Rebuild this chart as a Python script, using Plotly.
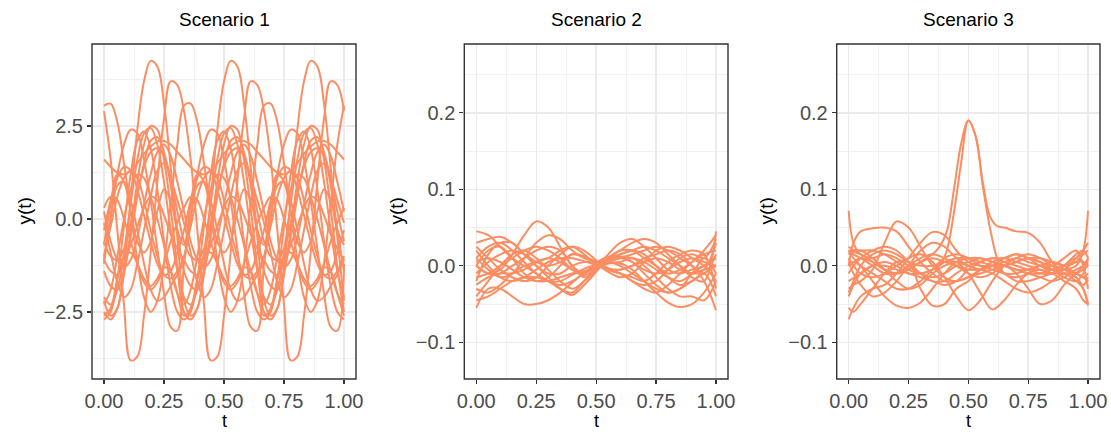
import plotly.graph_objects as go

# ---------------- data ----------------
# Scenario 1: time grid (step 1/36)
t1 = [0, 0.0278, 0.0556, 0.0833, 0.1111, 0.1389, 0.1667, 0.1944, 0.2222, 0.25, 0.2778, 0.3056,
      0.3333, 0.3611, 0.3889, 0.4167, 0.4444, 0.4722, 0.5, 0.5278, 0.5556, 0.5833, 0.6111, 0.6389,
      0.6667, 0.6944, 0.7222, 0.75, 0.7778, 0.8056, 0.8333, 0.8611, 0.8889, 0.9167, 0.9444, 0.9722, 1.0]

s1_a = [-2.2, -2.6, -2.4, -1.3, 0.5, 2.4, 3.7, 4.25, 4.1, 3.1, 1.4, -0.5,
        -2.2, -2.6, -2.4, -1.3, 0.5, 2.4, 3.7, 4.25, 4.1, 3.1, 1.4, -0.5,
        -2.2, -2.6, -2.4, -1.3, 0.5, 2.4, 3.7, 4.25, 4.1, 3.1, 1.4, -0.5, -2.2]
s1_b = [2.9, 1.6, -0.3, -2.3, -3.8, -3.7, -2.6, -0.9, 1.0, 2.7, 3.7, 3.6,
        2.9, 1.6, -0.3, -2.3, -3.8, -3.7, -2.6, -0.9, 1.0, 2.7, 3.7, 3.6,
        2.9, 1.6, -0.3, -2.3, -3.8, -3.7, -2.6, -0.9, 1.0, 2.7, 3.7, 3.6, 2.9]
s1_c = [3.05, 3.1, 2.6, 1.5, 0.2, -1.1, -2.1, -2.5, -2.2, -1.2, 0.4, 2.0,
        3.05, 3.1, 2.6, 1.5, 0.2, -1.1, -2.1, -2.5, -2.2, -1.2, 0.4, 2.0,
        3.05, 3.1, 2.6, 1.5, 0.2, -1.1, -2.1, -2.5, -2.2, -1.2, 0.4, 2.0, 3.05]
s1_d = [-1.2, 0.1, 1.2, 2.0, 2.4, 2.3, 1.6, 0.5, -0.8, -2.0, -2.9, -3.0,
        -1.2, 0.1, 1.2, 2.0, 2.4, 2.3, 1.6, 0.5, -0.8, -2.0, -2.9, -3.0,
        -1.2, 0.1, 1.2, 2.0, 2.4, 2.3, 1.6, 0.5, -0.8, -2.0, -2.9, -3.0, -1.2]
s1_e = [1.6, 1.4, 1.25, 1.2, 1.3, 1.5, 1.75, 1.95, 2.08, 2.1, 2.0, 1.8,
        1.6, 1.4, 1.25, 1.2, 1.3, 1.5, 1.75, 1.95, 2.08, 2.1, 2.0, 1.8,
        1.6, 1.4, 1.25, 1.2, 1.3, 1.5, 1.75, 1.95, 2.08, 2.1, 2.0, 1.8, 1.6]
s1_f = [-2.5, -2.7, -2.4, -1.5, -0.3, 1.0, 2.0, 2.5, 2.4, 1.6, 0.3, -1.3,
        -2.5, -2.7, -2.4, -1.5, -0.3, 1.0, 2.0, 2.5, 2.4, 1.6, 0.3, -1.3,
        -2.5, -2.7, -2.4, -1.5, -0.3, 1.0, 2.0, 2.5, 2.4, 1.6, 0.3, -1.3, -2.5]
s1_g = [-2.1, -2.3, -1.9, -0.9, 0.4, 1.6, 2.3, 2.45, 2.0, 1.0, -0.3, -1.4,
        -2.1, -2.3, -1.9, -0.9, 0.4, 1.6, 2.3, 2.45, 2.0, 1.0, -0.3, -1.4,
        -2.1, -2.3, -1.9, -0.9, 0.4, 1.6, 2.3, 2.45, 2.0, 1.0, -0.3, -1.4, -2.1]
s1_h = [-1.4, -1.8, -1.9, -1.4, -0.5, 0.6, 1.5, 2.1, 2.2, 1.8, 0.9, -0.3,
        -1.4, -1.8, -1.9, -1.4, -0.5, 0.6, 1.5, 2.1, 2.2, 1.8, 0.9, -0.3,
        -1.4, -1.8, -1.9, -1.4, -0.5, 0.6, 1.5, 2.1, 2.2, 1.8, 0.9, -0.3, -1.4]
s1_i = [-0.6, -1.0, -1.1, -0.8, -0.1, 0.7, 1.4, 1.8, 1.9, 1.7, 1.1, 0.2,
        -0.6, -1.0, -1.1, -0.8, -0.1, 0.7, 1.4, 1.8, 1.9, 1.7, 1.1, 0.2,
        -0.6, -1.0, -1.1, -0.8, -0.1, 0.7, 1.4, 1.8, 1.9, 1.7, 1.1, 0.2, -0.6]
s1_j = [-0.3, 0.5, 1.1, 1.4, 1.3, 0.8, 0.1, -0.6, -1.2, -1.5, -1.4, -0.9,
        -0.3, 0.5, 1.1, 1.4, 1.3, 0.8, 0.1, -0.6, -1.2, -1.5, -1.4, -0.9,
        -0.3, 0.5, 1.1, 1.4, 1.3, 0.8, 0.1, -0.6, -1.2, -1.5, -1.4, -0.9, -0.3]
s1_k = [-1.0, -0.2, 0.6, 1.1, 1.3, 1.1, 0.5, -0.3, -1.0, -1.5, -1.6, -1.4,
        -1.0, -0.2, 0.6, 1.1, 1.3, 1.1, 0.5, -0.3, -1.0, -1.5, -1.6, -1.4,
        -1.0, -0.2, 0.6, 1.1, 1.3, 1.1, 0.5, -0.3, -1.0, -1.5, -1.6, -1.4, -1.0]
s1_l = [-2.6, -2.4, -1.6, -1.0, -0.9, -1.2, -1.6, -1.8, -1.6, -1.3, -1.4, -2.0,
        -2.6, -2.4, -1.6, -1.0, -0.9, -1.2, -1.6, -1.8, -1.6, -1.3, -1.4, -2.0,
        -2.6, -2.4, -1.6, -1.0, -0.9, -1.2, -1.6, -1.8, -1.6, -1.3, -1.4, -2.0, -2.6]
s1_m = [0.3, 0.6, 0.5, 0.0, -0.6, -1.2, -1.7, -1.9, -1.7, -1.2, -0.6, -0.1,
        0.3, 0.6, 0.5, 0.0, -0.6, -1.2, -1.7, -1.9, -1.7, -1.2, -0.6, -0.1,
        0.3, 0.6, 0.5, 0.0, -0.6, -1.2, -1.7, -1.9, -1.7, -1.2, -0.6, -0.1, 0.3]
s1_n = [-0.7, 0.4, 1.2, 1.0, 0.2, -0.6, -0.9, -0.6, 0.2, 0.8, 0.5, -0.3,
        -0.7, 0.4, 1.2, 1.0, 0.2, -0.6, -0.9, -0.6, 0.2, 0.8, 0.5, -0.3,
        -0.7, 0.4, 1.2, 1.0, 0.2, -0.6, -0.9, -0.6, 0.2, 0.8, 0.5, -0.3, -0.7]
s1_o = [-2.3, -1.9, -1.0, 0.0, 0.8, 1.2, 1.1, 0.6, 0.0, -0.7, -1.4, -2.0,
        -2.3, -1.9, -1.0, 0.0, 0.8, 1.2, 1.1, 0.6, 0.0, -0.7, -1.4, -2.0,
        -2.3, -1.9, -1.0, 0.0, 0.8, 1.2, 1.1, 0.6, 0.0, -0.7, -1.4, -2.0, -2.3]
s1_p = [0.2, -0.6, -1.1, -1.3, -1.1, -0.5, 0.4, 1.2, 1.8, 2.0, 1.7, 1.0,
        0.2, -0.6, -1.1, -1.3, -1.1, -0.5, 0.4, 1.2, 1.8, 2.0, 1.7, 1.0,
        0.2, -0.6, -1.1, -1.3, -1.1, -0.5, 0.4, 1.2, 1.8, 2.0, 1.7, 1.0, 0.2]
s1_q = [-1.1, 0.0, 0.9, 1.0, 0.5, -0.3, -1.2, -1.9, -2.2, -2.1, -1.8, -1.5,
        -1.1, 0.0, 0.9, 1.0, 0.5, -0.3, -1.2, -1.9, -2.2, -2.1, -1.8, -1.5,
        -1.1, 0.0, 0.9, 1.0, 0.5, -0.3, -1.2, -1.9, -2.2, -2.1, -1.8, -1.5, -1.1]
s1_r = [-2.7, -2.5, -1.6, -0.2, 1.2, 2.1, 2.35, 1.9, 0.8, -0.6, -1.8, -2.5,
        -2.7, -2.5, -1.6, -0.2, 1.2, 2.1, 2.35, 1.9, 0.8, -0.6, -1.8, -2.5,
        -2.7, -2.5, -1.6, -0.2, 1.2, 2.1, 2.35, 1.9, 0.8, -0.6, -1.8, -2.5, -2.7]
s1_s = [-1.1, -1.4, -1.5, -1.2, -0.7, -0.2, 0.3, 0.6, 0.5, 0.1, -0.4, -0.8,
        -1.1, -1.4, -1.5, -1.2, -0.7, -0.2, 0.3, 0.6, 0.5, 0.1, -0.4, -0.8,
        -1.1, -1.4, -1.5, -1.2, -0.7, -0.2, 0.3, 0.6, 0.5, 0.1, -0.4, -0.8, -1.1]
s1_t = [-0.1, -0.9, -1.7, -2.1, -1.9, -1.2, -0.3, 0.6, 1.3, 1.5, 1.1, 0.5,
        -0.1, -0.9, -1.7, -2.1, -1.9, -1.2, -0.3, 0.6, 1.3, 1.5, 1.1, 0.5,
        -0.1, -0.9, -1.7, -2.1, -1.9, -1.2, -0.3, 0.6, 1.3, 1.5, 1.1, 0.5, -0.1]

# Scenario 2: time grid (step 0.05)
t2 = [0, 0.05, 0.1, 0.15, 0.2, 0.25, 0.3, 0.35, 0.4, 0.45, 0.5,
      0.55, 0.6, 0.65, 0.7, 0.75, 0.8, 0.85, 0.9, 0.95, 1.0]

s2_01 = [0.0, -0.01, -0.005, 0.015, 0.04, 0.058, 0.05, 0.025, 0.0, -0.01, 0.004, 0.012, 0.012, 0.005, -0.005, -0.01, -0.005, 0.005, 0.01, 0.005, 0.0]
s2_02 = [-0.055, -0.03, -0.03, -0.04, -0.05, -0.05, -0.045, -0.035, -0.022, -0.01, -0.004, 0.003, 0.003, -0.005, -0.02, -0.035, -0.048, -0.054, -0.05, -0.035, -0.01]
s2_03 = [0.045, 0.04, 0.025, 0.01, 0.0, -0.01, -0.02, -0.03, -0.035, -0.02, -0.006, 0.01, 0.015, 0.02, 0.025, 0.02, 0.01, 0.0, -0.01, -0.005, 0.03]
s2_04 = [0.03, 0.035, 0.038, 0.03, 0.015, 0.0, -0.015, -0.03, -0.038, -0.025, -0.008, 0.01, 0.02, 0.03, 0.035, 0.03, 0.015, 0.0, -0.015, -0.02, 0.045]
s2_05 = [-0.02, 0.015, 0.03, 0.03, 0.015, 0.0, -0.01, -0.01, 0.0, 0.005, 0.005, -0.005, -0.01, -0.02, -0.03, -0.035, -0.025, -0.01, 0.005, 0.015, 0.02]
s2_06 = [0.01, -0.005, -0.015, -0.01, 0.01, 0.03, 0.04, 0.035, 0.02, 0.01, 0.006, 0.004, 0.005, 0.01, 0.005, -0.005, -0.015, -0.02, -0.01, 0.01, -0.01]
s2_07 = [-0.04, -0.02, 0.0, 0.015, 0.02, 0.01, -0.005, -0.02, -0.03, -0.02, -0.003, 0.015, 0.03, 0.035, 0.025, 0.01, -0.005, -0.01, -0.005, 0.0, 0.01]
s2_08 = [0.0, 0.02, 0.025, 0.01, -0.01, -0.02, -0.015, 0.0, 0.015, 0.012, 0.003, -0.008, -0.015, -0.01, 0.005, 0.02, 0.025, 0.02, 0.01, 0.0, -0.02]
s2_09 = [0.02, 0.0, -0.015, -0.02, -0.015, -0.005, 0.005, 0.01, 0.01, 0.006, 0.001, -0.005, -0.005, 0.0, 0.01, 0.015, 0.02, 0.015, 0.0, -0.02, -0.058]
s2_10 = [-0.03, -0.035, -0.025, -0.01, 0.0, 0.005, 0.01, 0.02, 0.025, 0.015, 0.002, -0.005, -0.01, -0.02, -0.025, -0.02, -0.005, 0.01, 0.015, 0.01, 0.035]
s2_11 = [0.005, 0.01, 0.005, -0.005, -0.015, -0.02, -0.02, -0.015, -0.01, -0.007, -0.002, 0.005, 0.01, 0.005, -0.01, -0.025, -0.035, -0.03, -0.01, 0.0, 0.01]
s2_12 = [-0.01, 0.005, 0.015, 0.02, 0.015, 0.005, 0.0, 0.005, 0.015, 0.012, 0.005, -0.003, -0.005, 0.0, 0.005, 0.01, 0.005, -0.005, -0.01, -0.005, 0.0]
s2_13 = [0.025, 0.01, -0.005, -0.015, -0.02, -0.015, 0.0, 0.015, 0.025, 0.02, 0.007, -0.005, -0.01, -0.015, -0.02, -0.01, 0.005, 0.015, 0.02, 0.015, -0.03]
s2_14 = [-0.015, -0.01, 0.0, 0.01, 0.02, 0.025, 0.02, 0.01, -0.005, -0.012, -0.005, 0.005, 0.01, 0.015, 0.02, 0.025, 0.02, 0.01, 0.0, -0.01, 0.015]
s2_15 = [0.01, 0.025, 0.03, 0.02, 0.005, -0.01, -0.02, -0.025, -0.02, -0.01, -0.001, 0.008, 0.012, 0.01, 0.0, -0.015, -0.03, -0.04, -0.04, -0.045, -0.02]
s2_16 = [-0.045, -0.04, -0.03, -0.02, -0.015, -0.015, -0.02, -0.02, -0.012, -0.004, 0.001, 0.005, 0.0, -0.01, -0.02, -0.03, -0.035, -0.03, -0.02, -0.01, 0.0]
s2_17 = [0.0, -0.01, -0.01, 0.0, 0.01, 0.02, 0.025, 0.02, 0.0, -0.015, -0.006, 0.01, 0.02, 0.02, 0.01, 0.0, -0.01, -0.005, 0.005, 0.02, 0.04]
s2_18 = [-0.025, -0.015, -0.01, -0.01, -0.005, 0.005, 0.01, 0.005, -0.005, -0.008, 0.003, 0.008, 0.015, 0.02, 0.015, 0.0, -0.015, -0.025, -0.02, -0.01, -0.04]

# Scenario 3: time grid (finer near the ends)
t3 = [0, 0.02, 0.05, 0.1, 0.15, 0.2, 0.25, 0.3, 0.35, 0.4, 0.45, 0.5,
      0.55, 0.6, 0.65, 0.7, 0.75, 0.8, 0.85, 0.9, 0.95, 0.98, 1.0]

s3_01 = [0.072, 0.03, 0.015, 0.01, 0.015, 0.01, 0.0, -0.01, -0.015, -0.01, 0.0, 0.005, 0.01, 0.005, 0.0, -0.005, -0.005, 0.0, 0.005, 0.0, -0.01, -0.015, -0.01]
s3_02 = [0.0, 0.005, 0.01, 0.005, -0.005, -0.01, -0.005, 0.005, 0.01, 0.005, 0.0, -0.005, -0.005, 0.0, 0.005, 0.01, 0.005, 0.0, -0.005, -0.005, 0.0, 0.02, 0.072]
s3_03 = [0.0, 0.03, 0.045, 0.049, 0.05, 0.045, 0.025, 0.005, -0.01, -0.02, -0.02, -0.015, -0.01, -0.005, 0.0, 0.005, 0.01, 0.005, -0.005, -0.015, -0.02, -0.01, 0.01]
s3_04 = [-0.03, -0.025, -0.02, -0.005, 0.03, 0.058, 0.05, 0.025, 0.0, -0.015, -0.02, -0.015, -0.005, 0.0, 0.0, -0.005, -0.01, -0.015, -0.02, -0.015, -0.005, 0.0, 0.005]
s3_05 = [0.02, 0.01, 0.0, -0.02, -0.04, -0.052, -0.055, -0.048, -0.03, -0.01, 0.005, 0.01, 0.01, 0.005, 0.0, -0.005, -0.01, -0.01, -0.005, 0.0, 0.005, 0.005, 0.0]
s3_06 = [-0.055, -0.06, -0.05, -0.03, -0.01, 0.005, 0.005, -0.03, -0.052, -0.05, -0.03, -0.02, -0.005, 0.005, 0.01, 0.005, 0.0, -0.005, -0.01, -0.01, -0.02, -0.03, -0.05]
s3_07 = [0.01, 0.0, -0.01, -0.015, -0.01, 0.0, 0.01, 0.015, 0.005, -0.015, -0.04, -0.058, -0.045, -0.02, 0.0, 0.01, 0.015, 0.01, 0.0, -0.01, -0.01, -0.005, 0.0]
s3_08 = [-0.035, -0.02, 0.0, 0.015, 0.02, 0.015, 0.005, 0.0, 0.0, 0.005, 0.005, -0.01, -0.035, -0.057, -0.045, -0.025, -0.01, -0.005, -0.01, -0.02, -0.03, -0.045, -0.05]
s3_09 = [0.02, 0.015, 0.01, 0.0, -0.01, -0.01, 0.0, 0.01, 0.015, 0.01, 0.0, -0.01, -0.015, -0.01, 0.0, -0.01, -0.03, -0.05, -0.045, -0.025, -0.01, 0.0, 0.01]
s3_10 = [-0.07, -0.055, -0.04, -0.03, -0.025, -0.01, 0.01, 0.03, 0.044, 0.04, 0.02, 0.005, 0.0, 0.0, 0.0, 0.005, 0.01, 0.01, 0.005, 0.0, 0.005, 0.015, 0.02]
s3_11 = [0.025, 0.02, 0.02, 0.02, 0.015, 0.005, -0.005, -0.01, -0.005, 0.005, 0.01, 0.01, 0.005, 0.0, -0.01, -0.02, -0.02, -0.015, -0.01, 0.0, 0.015, 0.02, 0.01]
s3_12 = [-0.01, 0.0, 0.01, 0.02, 0.025, 0.02, 0.005, -0.01, -0.02, -0.02, -0.01, 0.0, 0.005, 0.01, 0.01, 0.015, 0.01, 0.005, 0.0, 0.01, 0.02, 0.0, -0.03]
s3_13 = [0.005, -0.01, -0.025, -0.04, -0.035, -0.02, 0.0, 0.02, 0.03, 0.025, 0.01, 0.0, -0.005, -0.01, -0.02, -0.03, -0.035, -0.03, -0.02, -0.01, -0.015, -0.03, -0.052]
s3_14 = [0.015, 0.02, 0.02, 0.01, -0.005, -0.02, -0.03, -0.025, -0.01, 0.0, 0.005, 0.0, -0.005, 0.0, 0.01, 0.015, 0.01, 0.0, -0.005, -0.005, -0.01, -0.015, -0.02]
s3_15 = [-0.04, -0.025, -0.01, 0.0, 0.0, -0.005, -0.01, -0.015, -0.02, -0.025, -0.02, -0.005, 0.005, 0.01, 0.005, 0.0, -0.005, -0.01, -0.01, -0.005, 0.01, 0.02, 0.03]
s3_16 = [0.0, 0.005, 0.0, -0.01, -0.02, -0.03, -0.03, -0.02, -0.005, 0.01, 0.015, 0.01, 0.0, -0.005, -0.01, -0.01, -0.005, 0.0, 0.0, -0.005, -0.015, -0.025, -0.015]

# Scenario 3: the two peaked curves, on a finer grid around the peak
t3_peak = [0, 0.05, 0.1, 0.15, 0.2, 0.25, 0.3, 0.35, 0.38, 0.41, 0.44, 0.47, 0.5,
           0.53, 0.56, 0.59, 0.62, 0.65, 0.7, 0.75, 0.8, 0.85, 0.9, 0.95, 1.0]
s3_peak1 = [0.02, 0.015, 0.005, -0.005, -0.01, -0.005, 0.005, 0.015, 0.025, 0.045, 0.1, 0.16, 0.19,
            0.17, 0.11, 0.065, 0.052, 0.05, 0.045, 0.043, 0.03, 0.005, -0.01, -0.01, -0.02]
s3_peak2 = [-0.02, -0.01, 0.0, 0.005, 0.0, -0.01, -0.01, -0.005, 0.0, 0.02, 0.07, 0.135, 0.19,
            0.17, 0.105, 0.05, 0.01, -0.01, -0.015, -0.01, 0.0, -0.01, 0.0, 0.01, 0.0]

titles = ["Scenario 1", "Scenario 2", "Scenario 3"]
x_ticks = [0, 0.25, 0.5, 0.75, 1.0]
x_ticklabels = ["0.00", "0.25", "0.50", "0.75", "1.00"]
y1_ticks = [-2.5, 0, 2.5]
y1_ticklabels = ["\u22122.5", "0.0", "2.5"]
y2_ticks = [-0.1, 0, 0.1, 0.2]
y2_ticklabels = ["\u22120.1", "0.0", "0.1", "0.2"]

panel1 = [s1_a, s1_b, s1_c, s1_d, s1_e, s1_f, s1_g, s1_h, s1_i, s1_j,
          s1_k, s1_l, s1_m, s1_n, s1_o, s1_p, s1_q, s1_r, s1_s, s1_t]
panel2 = [s2_01, s2_02, s2_03, s2_04, s2_05, s2_06, s2_07, s2_08, s2_09,
          s2_10, s2_11, s2_12, s2_13, s2_14, s2_15, s2_16, s2_17, s2_18]
panel3 = [s3_01, s3_02, s3_03, s3_04, s3_05, s3_06, s3_07, s3_08,
          s3_09, s3_10, s3_11, s3_12, s3_13, s3_14, s3_15, s3_16]

# ---------------- figure ----------------
W, H = 1111, 435
COLOR = "#FC8D62"
FONT = "Liberation Sans, Arial, Helvetica, sans-serif"

fig = go.Figure()

def add_line(x, y, xa, ya):
    fig.add_trace(go.Scatter(x=x, y=y, mode="lines", xaxis=xa, yaxis=ya,
                             line=dict(color=COLOR, width=2.0, shape="spline", smoothing=1.0),
                             hoverinfo="skip", showlegend=False))

for y in panel1:
    add_line(t1, y, "x", "y")
for y in panel2:
    add_line(t2, y, "x2", "y2")
for y in panel3:
    add_line(t3, y, "x3", "y3")
add_line(t3_peak, s3_peak1, "x3", "y3")
add_line(t3_peak, s3_peak2, "x3", "y3")

# panel pixel geometry
panels_px = [(92, 356), (464.3, 728), (836.7, 1100)]
top_px, bot_px = 44, 379
ydom = [1 - bot_px / H, 1 - top_px / H]

base_axis = dict(showline=False, ticks="outside", ticklen=4, tickwidth=1.3, tickcolor="#333333",
                 showgrid=True, gridcolor="#EBEBEB", gridwidth=1.4, zeroline=False,
                 automargin=False, fixedrange=True,
                 tickfont=dict(size=20, color="#4D4D4D", family=FONT))

layout = dict(width=W, height=H, autosize=False, margin=dict(l=0, r=0, t=0, b=0, pad=0),
              paper_bgcolor="white", plot_bgcolor="white", showlegend=False)

x_minor = dict(tickvals=[0.125, 0.375, 0.625, 0.875], showgrid=True,
               gridcolor="#EBEBEB", gridwidth=0.7, ticks="")
y1_minor = dict(tickvals=[-3.75, -1.25, 1.25, 3.75], showgrid=True,
                gridcolor="#EBEBEB", gridwidth=0.7, ticks="")
y2_minor = dict(tickvals=[-0.05, 0.05, 0.15, 0.25], showgrid=True,
                gridcolor="#EBEBEB", gridwidth=0.7, ticks="")

annotations = []
shapes = []
for i, (l, r) in enumerate(panels_px):
    sfx = "" if i == 0 else str(i + 1)
    layout["xaxis" + sfx] = dict(base_axis, domain=[l / W, r / W], range=[-0.05, 1.05],
                                 tickvals=x_ticks, ticktext=x_ticklabels, minor=x_minor,
                                 anchor="y" + sfx)
    if i == 0:
        layout["yaxis"] = dict(base_axis, domain=ydom, range=[-4.301, 4.704],
                               tickvals=y1_ticks, ticktext=y1_ticklabels, minor=y1_minor,
                               anchor="x")
    else:
        layout["yaxis" + sfx] = dict(base_axis, domain=ydom, range=[-0.148, 0.29],
                                     tickvals=y2_ticks, ticktext=y2_ticklabels, minor=y2_minor,
                                     anchor="x" + sfx)
    # panel border
    shapes.append(dict(type="rect", xref="x%s domain" % sfx, yref="y%s domain" % sfx,
                       x0=0, x1=1, y0=0, y1=1, layer="above",
                       line=dict(color="#333333", width=1.4), fillcolor="rgba(0,0,0,0)"))
    cx = (l + r) / 2 / W
    annotations.append(dict(text=titles[i], x=cx, y=1 - 19 / H, xref="paper", yref="paper",
                            xanchor="center", yanchor="middle", showarrow=False,
                            font=dict(size=19, color="black", family=FONT)))
    annotations.append(dict(text="t", x=cx, y=1 - 421 / H, xref="paper", yref="paper",
                            xanchor="center", yanchor="middle", showarrow=False, borderpad=0,
                            font=dict(size=18, color="black", family=FONT)))

for xc in [24, 396, 766]:
    annotations.append(dict(text="y(t)", x=xc / W, y=(ydom[0] + ydom[1]) / 2,
                            xref="paper", yref="paper", xanchor="center", yanchor="middle",
                            textangle=-90, showarrow=False,
                            font=dict(size=19, color="black", family=FONT)))

layout["annotations"] = annotations
layout["shapes"] = shapes
fig.update_layout(**layout)
fig.write_html("out.html",
               config={"displayModeBar": False, "staticPlot": True},
               post_script="document.body.style.margin='0';"
                           "document.body.style.padding='0';"
                           "document.body.style.overflow='hidden';")
